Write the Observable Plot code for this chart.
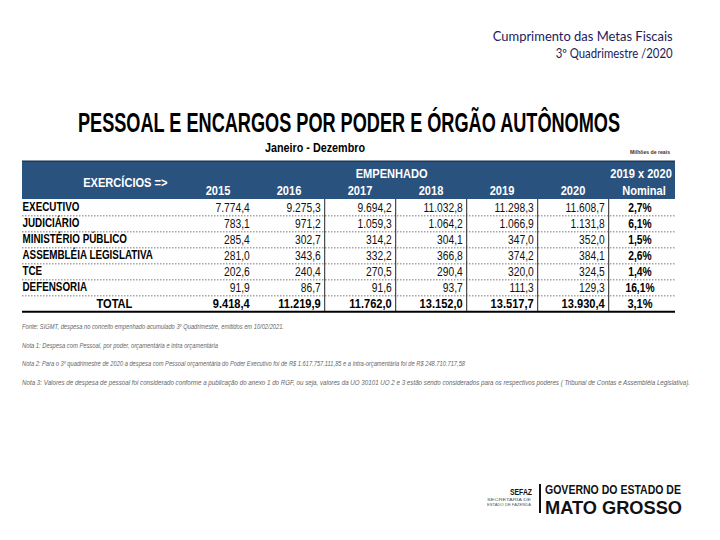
<!DOCTYPE html>
<html><head><meta charset="utf-8">
<script src="https://cdn.jsdelivr.net/npm/d3@7"></script>
<script src="https://cdn.jsdelivr.net/npm/@observablehq/plot@0.6"></script>
<style>
body{margin:0;background:#fff;}
#page{position:relative;width:720px;height:540px;overflow:hidden;background:#fff;font-family:"Liberation Sans",Arial,sans-serif;}
.abs{position:absolute;white-space:nowrap;line-height:1;transform-origin:0 0;}
.hdr{font-family:Lato,"Open Sans",sans-serif;font-size:12.5px;color:#1c1c5a;right:47px;transform-origin:100% 0;}
.note{font-style:italic;font-size:7px;color:#666;left:22px;}
#chart{position:absolute;left:0;top:140px;}
</style></head><body><div id="page">
<div class="abs hdr" id="h1" style="top:31px">Cumprimento das Metas Fiscais</div>
<div class="abs hdr" id="h2" style="top:48px">3º Quadrimestre /2020</div>
<div class="abs" id="title" style="left:78px;top:110px;font-weight:bold;font-size:27px;color:#000">PESSOAL E ENCARGOS POR PODER E ÓRGÃO AUTÔNOMOS</div>
<div class="abs" id="period" style="left:265px;top:141px;font-weight:bold;font-size:13px;color:#000">Janeiro - Dezembro</div>
<div class="abs" id="unit" style="left:630px;top:149px;font-weight:bold;font-size:6px;color:#333">Milhões de reais</div>
<div id="chart"></div>
<div class="abs note" id="n0" style="top:323px">Fonte: SIGMT, despesa no conceito empenhado acumulado 3º Quadrimestre, emitidos em 10/02/2021.</div>
<div class="abs note" id="n1" style="top:342px">Nota 1: Despesa com Pessoal, por poder, orçamentária e intra orçamentária</div>
<div class="abs note" id="n2" style="top:360px">Nota 2: Para o 3º quadrimestre de 2020 a despesa com Pessoal orçamentária do Poder Executivo foi de R$ 1.617.757.111,85 e a intra-orçamentária foi de R$ 248.710.717,58</div>
<div class="abs note" id="n3" style="top:379px">Nota 3: Valores de despesa de pessoal foi considerado conforme a publicação do anexo 1 do RGF, ou seja, valores da UO 30101 UO 2 e 3 estão sendo considerados para os respectivos poderes ( Tribunal de Contas e Assembléia Legislativa).</div>
<div class="abs" id="sefaz" style="left:510px;top:488px;font-weight:bold;font-size:9px;color:#111">SEFAZ</div>
<div class="abs" id="sec1" style="left:487px;top:498px;font-size:4px;color:#555">SECRETARIA DE</div>
<div class="abs" id="sec2" style="left:487px;top:503px;font-size:4px;color:#555">ESTADO DE FAZENDA</div>
<div class="abs" style="left:539px;top:484px;width:1.5px;height:29px;background:#111"></div>
<div class="abs" id="gov" style="left:545px;top:484px;font-weight:bold;font-size:12px;color:#111">GOVERNO DO ESTADO DE</div>
<div class="abs" id="mt" style="left:545px;top:498.5px;font-weight:bold;font-size:18px;color:#111">MATO GROSSO</div>
</div>
<script>
// ---- data ----
const rowsBody = ["EXECUTIVO","JUDICIÁRIO","MINISTÉRIO PÚBLICO","ASSEMBLÉIA LEGISLATIVA","TCE","DEFENSORIA"];
const years = ["2015","2016","2017","2018","2019","2020"];
const v2015 = [7774.4, 783.1, 285.4, 281.0, 202.6, 91.9];
const v2016 = [9275.3, 971.2, 302.7, 343.6, 240.4, 86.7];
const v2017 = [9694.2, 1059.3, 314.2, 332.2, 270.5, 91.6];
const v2018 = [11032.8, 1064.2, 304.1, 366.8, 290.4, 93.7];
const v2019 = [11298.3, 1066.9, 347.0, 374.2, 320.0, 111.3];
const v2020 = [11608.7, 1131.8, 352.0, 384.1, 324.5, 129.3];
const totals = [9418.4, 11219.9, 11762.0, 13152.0, 13517.7, 13930.4];
const nominal = [2.7, 6.1, 1.5, 2.6, 1.4, 16.1];
const nominalTotal = 3.1;
const totalLabel = "TOTAL";
const headGroup = "EMPENHADO";
const headCompare = "2019 x 2020";
const headNominal = "Nominal";
const headRows = "EXERCÍCIOS =>";

// ---- build table ----
const series = [v2015, v2016, v2017, v2018, v2019, v2020];
const cols = [...years, headNominal];
const rowDomain = ["h1", "h2", ...rowsBody, totalLabel];
const loc = d3.formatLocale({decimal: ",", thousands: ".", grouping: [3], currency: ["R$", ""]});
const fmt = loc.format(",.1f");
const pct = (v) => loc.format(".1f")(v) + "%";
const cells = [];
years.forEach((y, i) => rowsBody.forEach((r, j) => cells.push({row: r, col: y, value: series[i][j]})));
const totalCells = years.map((y, i) => ({row: totalLabel, col: y, value: totals[i]}));
const nomCells = rowsBody.map((r, j) => ({row: r, col: headNominal, value: nominal[j]}));
const nomTotal = [{row: totalLabel, col: headNominal, value: nominalTotal}];
const vlineCols = ["2016", "2017", "2018", "2019", "2020"];
const vlines = [];
vlineCols.forEach(c => [...rowsBody, totalLabel].forEach(r => vlines.push({row: r, col: c})));

const W = 720, H = 180, mT = 24, mB = 6, mL = 180, mR = 40;
const bwx = (W - mL - mR) / cols.length;
const bwy = (H - mT - mB) / rowDomain.length;
const extL = -(mL - 22);
const extR = 5;
const FONT = '"Liberation Sans",Arial,sans-serif';
const BLUE = "#29527f";

const chart = Plot.plot({
  width: W, height: H, marginTop: mT, marginBottom: mB, marginLeft: mL, marginRight: mR,
  x: {type: "band", domain: cols, padding: 0, axis: null},
  y: {type: "band", domain: rowDomain, padding: 0, axis: null},
  style: {fontFamily: FONT, background: "transparent", overflow: "visible"},
  marks: [
    Plot.cell(["h1", "h2"], {y: d => d, fill: BLUE, insetLeft: extL, insetRight: extR, insetTop: -6}),
    Plot.ruleY(["h1"], {y: d => d, dy: -bwy / 2 - 6, insetLeft: extL, insetRight: extR, stroke: "#1a2f4a", strokeWidth: 1.2}),
    Plot.text([headGroup], {x: () => "2017", y: () => "h1", text: d => d, dx: bwx / 2 - 4, dy: -2, fill: "white", fontWeight: "bold", fontSize: 13.5}),
    Plot.text([headCompare], {x: () => headNominal, y: () => "h1", text: d => d, dx: -3, dy: -2, fill: "white", fontWeight: "bold", fontSize: 13.5}),
    Plot.text(cols, {x: d => d, y: () => "h2", text: d => d, dy: -0.5, fill: "white", fontWeight: "bold", fontSize: 13.5}),
    Plot.text([headRows], {y: () => "h1", text: d => d, frameAnchor: "left", dx: -13, dy: bwy / 2 - 1, textAnchor: "end", fill: "white", fontWeight: "bold", fontSize: 13.5}),
    Plot.ruleY(rowsBody, {y: d => d, dy: bwy / 2, insetLeft: extL, insetRight: extR, stroke: "#555", strokeDasharray: "1.5,1.5", strokeWidth: 0.8}),
    Plot.ruleY([totalLabel], {y: d => d, dy: bwy / 2, insetLeft: extL, insetRight: extR, stroke: "#000", strokeWidth: 2}),
    Plot.tickX(vlines, {x: "col", y: "row", dx: bwx / 2, stroke: "#222", strokeWidth: 1}),
    Plot.text(rowsBody, {y: d => d, text: d => d, frameAnchor: "left", dx: extL, textAnchor: "start", fontWeight: "bold", fontSize: 12, fill: "#000"}),
    Plot.text([totalLabel], {y: d => d, text: d => d, frameAnchor: "left", dx: 96 - mL, fontWeight: "bold", fontSize: 13.5, fill: "#000"}),
    Plot.text(cells, {x: "col", y: "row", text: d => fmt(d.value), textAnchor: "end", dx: bwx / 2 - 4, fontSize: 12.5, fill: "#111"}),
    Plot.text(totalCells, {x: "col", y: "row", text: d => fmt(d.value), textAnchor: "end", dx: bwx / 2 - 4, fontSize: 13.5, fontWeight: "bold", fill: "#000"}),
    Plot.text(nomCells, {x: "col", y: "row", text: d => pct(d.value), dx: -4, fontSize: 12.5, fontWeight: "bold", fill: "#000"}),
    Plot.text(nomTotal, {x: "col", y: "row", text: d => pct(d.value), dx: -4, fontSize: 13.5, fontWeight: "bold", fill: "#000"})
  ]
});
document.getElementById("chart").appendChild(chart);
// emulate the narrow typeface of the reference table
chart.querySelectorAll("text").forEach(t => {
  const w = t.getComputedTextLength();
  t.setAttribute("textLength", (w * 0.82).toFixed(2));
  t.setAttribute("lengthAdjust", "spacingAndGlyphs");
});

// fit decorative texts to widths
function fit(id, w) {
  const el = document.getElementById(id);
  const r = el.getBoundingClientRect().width;
  el.style.transform = `scaleX(${w / r})`;
}
fit("h1", 180); fit("h2", 117);
fit("title", 542);
fit("period", 100);
fit("unit", 40);
fit("n0", 262); fit("n1", 196); fit("n2", 443); fit("n3", 668);
fit("sec1", 44); fit("sec2", 44);
fit("gov", 136); fit("mt", 137); fit("sefaz", 22);
</script>
</body></html>
